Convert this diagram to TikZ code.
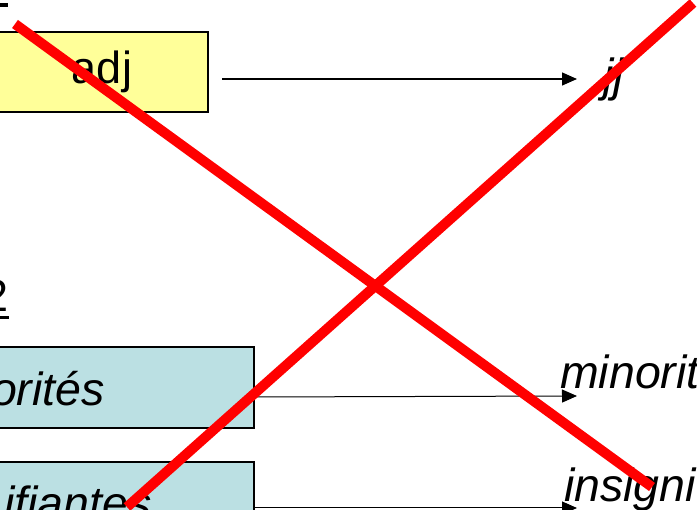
\documentclass[tikz,border=0pt]{standalone}
\usepackage{fontspec}
\setmainfont{Liberation Sans}
\usetikzlibrary{arrows.meta}
\definecolor{boxyellow}{HTML}{FFFF99}
\definecolor{boxblue}{HTML}{BBE0E3}
\definecolor{crossred}{HTML}{FF0000}
\begin{document}
\begin{tikzpicture}[x=1pt,y=-1pt,
  termbox/.style={draw=black, line width=1.5pt, inner sep=0pt, font=\fontsize{45}{50}\selectfont},
  word/.style={inner sep=0pt, font=\fontsize{46.5}{50}\selectfont\itshape},
  link/.style={line width=1.3pt, -{Triangle[length=15pt,width=13pt]}},
  cross/.style={draw=crossred, line width=10pt}]
\useasboundingbox (0,0) rectangle (697,510);
\clip (0,0) rectangle (697,510);

% heading fragments at the left edge
\fill[black] (-2,3) rectangle (8,7.5);
\node[word, font=\fontsize{45}{50}\selectfont, anchor=base east] (num) at (9,312) {2};
\fill[black] (-2,316) rectangle (9,319.5);

% tag box
\node[termbox, fill=boxyellow, minimum width=212pt, minimum height=80pt] (adj) at (102,72) {adj};
\node[word, anchor=base west] (jj) at (603,92) {jj};
\coordinate (a0) at (222,79);
\draw[link] (a0) -- (577,79) coordinate (a1);

% word boxes
\node[termbox, fill=boxblue, minimum width=274pt, minimum height=81pt] (b1) at (117,387.5) {};
\node[word, anchor=base east] (w1) at (105,406) {orités};
\node[termbox, fill=boxblue, minimum width=274pt, minimum height=81pt] (b2) at (117,502.5) {};
\node[word, anchor=base west] (w2) at (4,520) {ifiantes};

\node[word, anchor=base west] (m1) at (560,389) {minorit};
\node[word, anchor=base west] (m2) at (564,502) {insigni};

\draw[link, line width=1pt] (b1.east |- 0,397) -- (577,396);
\draw[link, line width=1pt] (b2.east |- 0,508) -- (577,508);

% crossing-out strokes
\draw[cross] (15,24) -- (652,487);
\draw[cross] (127,507) -- (693,3);
\end{tikzpicture}
\end{document}
